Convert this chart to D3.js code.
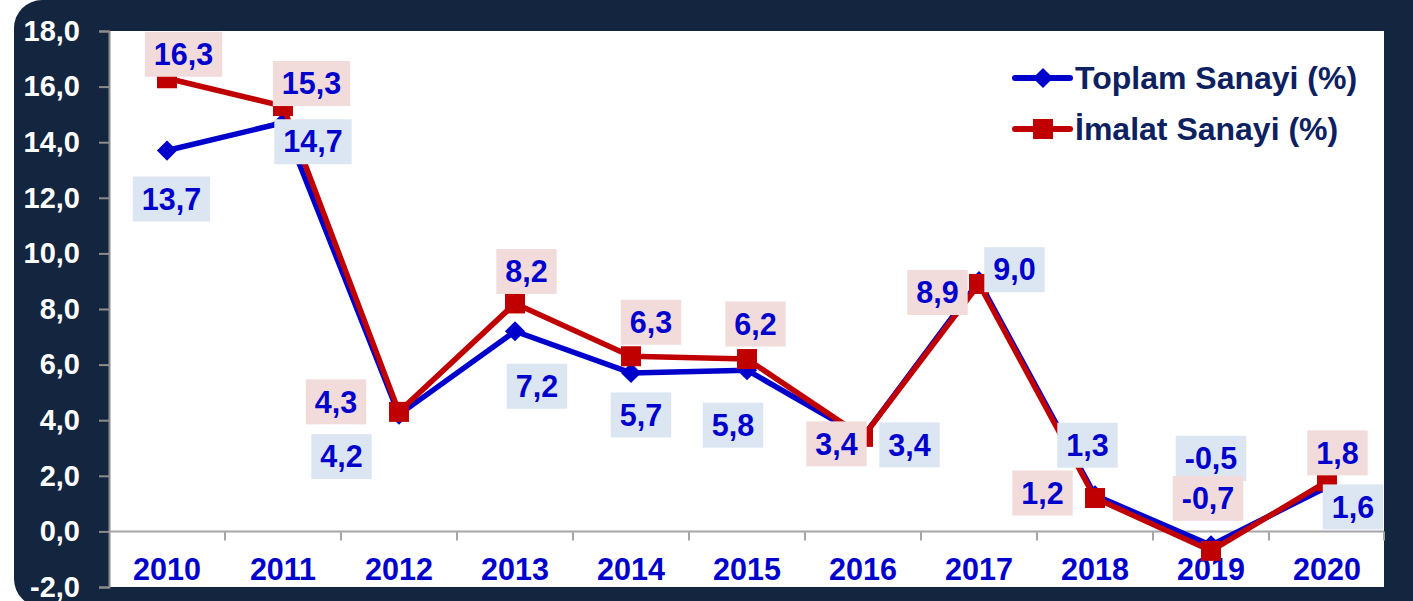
<!DOCTYPE html>
<html>
<head>
<meta charset="utf-8">
<script src="https://cdn.jsdelivr.net/npm/d3@7"></script>
<style>
  body { margin: 0; background: #fff; }
  svg { display: block; font-family: Arial, "Liberation Sans", sans-serif; }
</style>
</head>
<body>
<svg width="1413" height="601"></svg>
<script>
// Data
var years = ["2010", "2011", "2012", "2013", "2014", "2015", "2016", "2017", "2018", "2019", "2020"];
var toplam = [13.7, 14.7, 4.2, 7.2, 5.7, 5.8, 3.4, 9.0, 1.3, -0.5, 1.6];
var imalat = [16.3, 15.3, 4.3, 8.2, 6.3, 6.2, 3.4, 8.9, 1.2, -0.7, 1.8];
var yTicks = [-2, 0, 2, 4, 6, 8, 10, 12, 14, 16, 18];
var seriesNames = ["Toplam Sanayi (%)", "İmalat Sanayi (%)"];

// label box offsets from the point (layout only)
var toplamOffsets = [[4.5, 48.5], [30, 19], [-57.5, 42], [22, 55], [10, 42], [-14, 55], [46.5, 8], [35.5, -11.5], [-7.5, -50], [0, -87], [26, 20]];
var imalatOffsets = [[16.5, -24], [28.5, -22.5], [-63, -10], [11.5, -32], [20, -34], [8.5, -35], [-26.5, 7], [-41.5, 8.5], [-52.5, -5], [-3, -52.5], [10.5, -28.5]];

var svg = d3.select("svg"),
    width = +svg.attr("width"),
    height = +svg.attr("height");

var navy = "#13253f",
    blue = "#0000cc",
    red = "#c00000",
    legendText = "#0d2160";

var plot = {left: 109, right: 1384, top: 31, bottom: 587};

// background frame
svg.append("rect")
    .attr("x", 14).attr("y", 0)
    .attr("width", 1440).attr("height", 607)
    .attr("rx", 28).attr("ry", 28)
    .attr("fill", navy);

svg.append("rect")
    .attr("x", plot.left).attr("y", plot.top)
    .attr("width", plot.right - plot.left).attr("height", plot.bottom - plot.top)
    .attr("fill", "#fff");

var x = d3.scaleBand().domain(years).range([plot.left, plot.right + 1]).padding(0);
var y = d3.scaleLinear().domain([-2, 18]).range([plot.bottom, plot.top]);

var fmt = function(v) { return d3.format(".1f")(v).replace(".", ",").replace("−", "-"); };

// y axis
var yAxis = d3.axisLeft(y)
    .tickValues(yTicks)
    .tickSize(10)
    .tickPadding(19)
    .tickFormat(fmt);

var gy = svg.append("g")
    .attr("transform", "translate(" + plot.left + ",0)")
    .call(yAxis);
gy.select(".domain").attr("stroke", "#8c8c8c").attr("stroke-width", 2);
gy.selectAll(".tick line").attr("stroke", "#8c8c8c").attr("stroke-width", 2);
gy.selectAll(".tick text")
    .attr("fill", "#fff")
    .attr("font-size", 29)
    .attr("font-weight", "bold")
    .attr("font-family", "Arial, 'Liberation Sans', sans-serif");

// x axis at zero line
var y0 = y(0);
svg.append("line")
    .attr("x1", plot.left).attr("x2", plot.right)
    .attr("y1", y0).attr("y2", y0)
    .attr("stroke", "#a6a6a6").attr("stroke-width", 2);

svg.append("g").selectAll("line")
    .data(years.slice(1).concat(["end"]))
    .enter().append("line")
    .attr("x1", function(d) { return d == "end" ? plot.right : x(d); })
    .attr("x2", function(d) { return d == "end" ? plot.right : x(d); })
    .attr("y1", y0).attr("y2", y0 + 9)
    .attr("stroke", "#a6a6a6").attr("stroke-width", 2);

svg.append("g").selectAll("text")
    .data(years)
    .enter().append("text")
    .attr("x", function(d) { return x(d) + x.bandwidth() / 2; })
    .attr("y", 580)
    .attr("text-anchor", "middle")
    .attr("font-size", 30.5)
    .attr("font-weight", "bold")
    .attr("fill", blue)
    .text(function(d) { return d; });

// lines
var line = d3.line()
    .x(function(d, i) { return x(years[i]) + x.bandwidth() / 2; })
    .y(function(d) { return y(d); });

var diamond = d3.symbol().type(d3.symbolDiamond2).size(260);

svg.append("path")
    .datum(toplam)
    .attr("d", line)
    .attr("fill", "none")
    .attr("stroke", blue)
    .attr("stroke-width", 5.5)
    .attr("stroke-linejoin", "round");

svg.append("g").selectAll("path")
    .data(toplam)
    .enter().append("path")
    .attr("d", diamond)
    .attr("transform", function(d, i) { return "translate(" + (x(years[i]) + x.bandwidth() / 2) + "," + y(d) + ")"; })
    .attr("fill", blue);

svg.append("path")
    .datum(imalat)
    .attr("d", line)
    .attr("fill", "none")
    .attr("stroke", red)
    .attr("stroke-width", 5.5)
    .attr("stroke-linejoin", "round");

svg.append("g").selectAll("rect")
    .data(imalat)
    .enter().append("rect")
    .attr("x", function(d, i) { return x(years[i]) + x.bandwidth() / 2 - 10; })
    .attr("y", function(d) { return y(d) - 10; })
    .attr("width", 20).attr("height", 20)
    .attr("fill", red);

// data labels
function addLabels(values, offsets, boxFill) {
    var g = svg.append("g").selectAll("g")
        .data(values)
        .enter().append("g")
        .attr("transform", function(d, i) {
            var cx = x(years[i]) + x.bandwidth() / 2 + offsets[i][0];
            var cy = y(d) + offsets[i][1];
            return "translate(" + cx + "," + cy + ")";
        });
    var rects = g.append("rect").attr("fill", boxFill);
    var texts = g.append("text")
        .attr("text-anchor", "middle")
        .attr("dy", "0.35em")
        .attr("font-size", 30.5)
        .attr("font-weight", "bold")
        .attr("fill", blue)
        .text(function(d) { return fmt(d); });
    texts.each(function() {
        var w = this.getComputedTextLength() + 18;
        d3.select(this.parentNode).select("rect")
            .attr("x", -w / 2).attr("y", -22.5)
            .attr("width", w).attr("height", 45);
    });
}
addLabels(toplam, toplamOffsets, "#dce6f2");
addLabels(imalat, imalatOffsets, "#f2dcdb");

// legend
var legend = svg.append("g").selectAll("g")
    .data(seriesNames)
    .enter().append("g")
    .attr("transform", function(d, i) { return "translate(1015," + (78 + i * 51) + ")"; });

legend.append("line")
    .attr("x1", 0).attr("x2", 55)
    .attr("stroke", function(d, i) { return i == 0 ? blue : red; })
    .attr("stroke-width", 6)
    .attr("stroke-linecap", "round");

legend.each(function(d, i) {
    var g = d3.select(this);
    if (i == 0) {
        g.append("path").attr("d", diamond).attr("transform", "translate(28,0)").attr("fill", blue);
    } else {
        g.append("rect").attr("x", 18).attr("y", -10).attr("width", 20).attr("height", 20).attr("fill", red);
    }
});

legend.append("text")
    .attr("x", 60)
    .attr("y", 10.5)
    .attr("font-size", 32)
    .attr("font-weight", "bold")
    .attr("fill", legendText)
    .text(function(d) { return d; });
</script>
</body>
</html>
